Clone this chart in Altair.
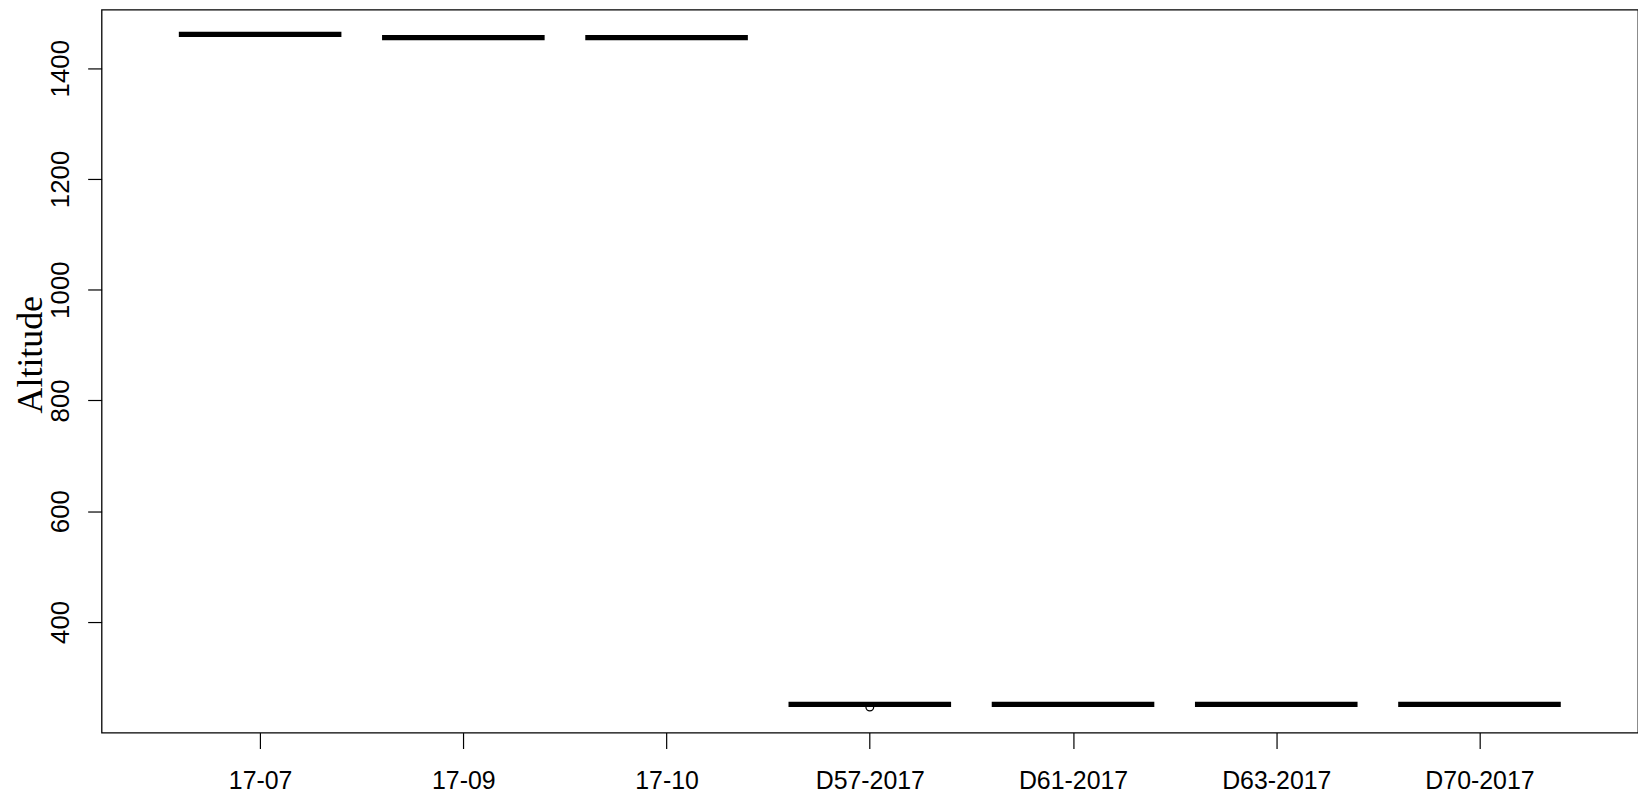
import altair as alt
import pandas as pd

categories = ["17-07", "17-09", "17-10", "D57-2017", "D61-2017", "D63-2017", "D70-2017"]
medians = [1461, 1455, 1455, 251, 251, 251, 251]
outlier_cats = ["D57-2017"]
outlier_vals = [246]
y_ticks = [400, 600, 800, 1000, 1200, 1400]

pos = {c: i + 1 for i, c in enumerate(categories)}
box_df = pd.DataFrame({"site": categories, "idx": [pos[c] for c in categories], "Altitude": medians})
out_df = pd.DataFrame({"site": outlier_cats, "idx": [pos[c] for c in outlier_cats], "Altitude": outlier_vals})

label_arr = "[" + ",".join("'" + c + "'" for c in categories) + "]"

xscale = alt.Scale(domain=[0.22, 7.78], nice=False, zero=False)
yscale = alt.Scale(domain=[200, 1505.6], nice=False, zero=False)

xaxis = alt.Axis(values=list(range(1, len(categories) + 1)), labelExpr=label_arr + "[datum.value-1]",
                 title=None, domain=False, grid=False, ticks=True, tickSize=16, tickColor="black",
                 tickWidth=1.2, labelFont="Liberation Sans", labelFontSize=25, labelColor="black",
                 labelPadding=20, labelBaseline="top", labelFlush=False)
yaxis = alt.Axis(values=y_ticks, format="d", title="Altitude", domain=False, grid=False, tickSize=14,
                 tickColor="black", tickWidth=1.2,
                 labelFont="Liberation Sans", labelFontSize=26, labelColor="black", labelAngle=-90,
                 labelAlign="center", labelBaseline="alphabetic", labelPadding=19,
                 titleFont="Liberation Serif", titleFontSize=36, titleFontWeight="normal", titleColor="black",
                 titleAngle=-90, titleAlign="center", titleBaseline="alphabetic", titleX=-60, titleY=346)

meds = alt.Chart(box_df).transform_calculate(
    lo="datum.idx - 0.4", hi="datum.idx + 0.4"
).mark_rule(color="black", strokeWidth=5.3, strokeCap="butt").encode(
    x=alt.X("lo:Q", scale=xscale, axis=xaxis),
    x2="hi:Q",
    y=alt.Y("Altitude:Q", scale=yscale, axis=yaxis),
)

outs = alt.Chart(out_df).mark_point(shape="circle", filled=False, color="black", size=60, strokeWidth=1.3,
                                    opacity=1).encode(
    x=alt.X("idx:Q", scale=xscale),
    y=alt.Y("Altitude:Q", scale=yscale),
)

chart = alt.layer(meds, outs).properties(
    width=1543, height=726,
    autosize=alt.AutoSizeParams(type="none"),
    padding={"left": 94, "top": 0, "right": 0, "bottom": 60},
).configure(background="white").configure_view(stroke="black", strokeWidth=1.3)

chart.save("out.html", embed_options={"renderer": "svg", "actions": False})
